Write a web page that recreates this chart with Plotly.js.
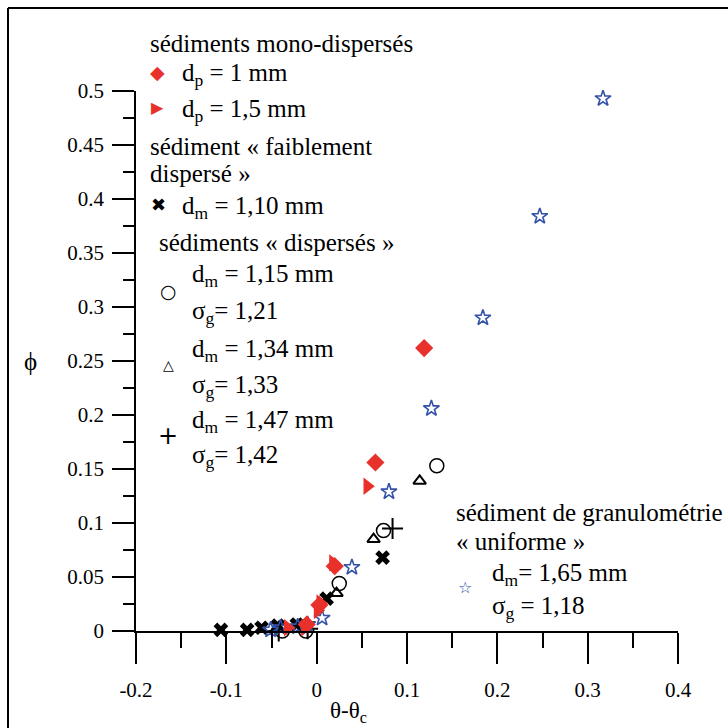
<!DOCTYPE html>
<html>
<head>
<meta charset="utf-8">
<script src="https://cdn.plot.ly/plotly-3.0.1.min.js"></script>
</head>
<body style="margin:0">
<div id="chart" style="width:728px;height:728px"></div>
<script>
// ---- data (θ-θc, φ) ----
const mono1_x = [-0.011, 0.003, 0.020, 0.065, 0.119];
const mono1_y = [0.006, 0.024, 0.060, 0.156, 0.262];
const mono15_x = [-0.032, -0.013, 0.001, 0.004, 0.018, 0.056];
const mono15_y = [0.003, 0.003, 0.019, 0.026, 0.063, 0.134];
const faible_x = [-0.106, -0.077, -0.061, -0.043, -0.022, 0.011, 0.073];
const faible_y = [0.001, 0.001, 0.003, 0.005, 0.006, 0.030, 0.068];
const disp115_x = [-0.038, -0.012, 0.025, 0.074, 0.133];
const disp115_y = [0.000, 0.000, 0.044, 0.093, 0.153];
const disp134_x = [-0.010, 0.022, 0.063, 0.114];
const disp134_y = [0.002, 0.035, 0.085, 0.139];
const disp147_x = [-0.042, -0.010, 0.084];
const disp147_y = [0.000, 0.002, 0.095];
const unif_x = [-0.051, -0.040, -0.021, -0.010, 0.006, 0.039, 0.080, 0.127, 0.184, 0.247, 0.317];
const unif_y = [0.001, 0.003, 0.004, 0.006, 0.012, 0.059, 0.129, 0.206, 0.290, 0.384, 0.493];

const xTickVals = [-0.2, -0.1, 0, 0.1, 0.2, 0.3, 0.4];
const xTickText = ['-0.2', '-0.1', '0', '0.1', '0.2', '0.3', '0.4'];
const yTickVals = [0, 0.05, 0.1, 0.15, 0.2, 0.25, 0.3, 0.35, 0.4, 0.45, 0.5];
const yTickText = ['0', '0.05', '0.1', '0.15', '0.2', '0.25', '0.3', '0.35', '0.4', '0.45', '0.5'];

// ---- styling ----
const RED = '#e8312b';
const BLUE = '#3452a8';
const SERIF = 'Liberation Serif';
const SYM = 'DejaVu Sans';
const L = 136, R = 50, T = 91, B = 97, W = 728, H = 728;
const PW = W - L - R, PH = H - T - B;
const px = v => (v - L) / PW;
const py = v => (H - B - v) / PH;

function tr(x, y, symbol, color, size, lw, name) {
  return {x: x, y: y, type: 'scatter', mode: 'markers', name: name, cliponaxis: false,
    marker: {symbol: symbol, color: color, size: size, line: {color: color, width: lw}}};
}
const traces = [
  tr(faible_x, faible_y, 'x', '#000', 13, 0, 'dm = 1,10 mm'),
  tr(disp115_x, disp115_y, 'circle-open', '#000', 14, 1.5, 'dm = 1,15 mm'),
  tr(disp134_x, disp134_y, 'triangle-up-open', '#000', 11, 2, 'dm = 1,34 mm'),
  tr(disp147_x, disp147_y, 'cross-thin-open', '#000', 15, 2, 'dm = 1,47 mm'),
  tr(unif_x, unif_y, 'star-open', BLUE, 12, 1.6, 'dm = 1,65 mm'),
  tr(mono15_x, mono15_y, 'triangle-right', RED, 15, 0, 'dp = 1,5 mm'),
  tr(mono1_x, mono1_y, 'diamond', RED, 14, 0, 'dp = 1 mm')
];

function txt(text, x, y, size) {
  return {text: text, xref: 'paper', yref: 'paper', x: px(x), y: py(y),
    xanchor: 'left', yanchor: 'middle', showarrow: false,
    font: {family: SERIF, size: size, color: '#000'}};
}
function sym(ch, color, x, y, size) {
  return {text: ch, xref: 'paper', yref: 'paper', x: px(x), y: py(y), xanchor: 'center', yanchor: 'middle',
    showarrow: false, font: {family: SYM, size: size, color: color}};
}
const FS = 25;
const annotations = [
  txt('sédiments mono-dispersés', 148, 43, FS),
  sym('◆', RED, 157, 72, 19), txt('d<sub>p</sub> = 1 mm', 180, 75, FS),
  sym('▶', RED, 157, 107, 16), txt('d<sub>p</sub> = 1,5 mm', 180, 110, FS),
  txt('sédiment « faiblement', 148, 146, FS),
  txt('dispersé »', 148, 173, FS),
  sym('✖', '#000', 158, 204, 18), txt('d<sub>m</sub> = 1,10 mm', 180, 207, FS),
  txt('sédiments « dispersés »', 157, 243, FS),
  txt('d<sub>m</sub> = 1,15 mm', 190, 275, FS), sym('○', '#000', 168, 291, 19), txt('σ<sub>g</sub>= 1,21', 190, 312, FS),
  txt('d<sub>m</sub> = 1,34 mm', 190, 350, FS), sym('△', '#000', 168, 365, 14), txt('σ<sub>g</sub>= 1,33', 190, 386, FS),
  txt('d<sub>m</sub> = 1,47 mm', 190, 421, FS), sym('+', '#000', 168, 436, 24), txt('σ<sub>g</sub>= 1,42', 190, 456, FS),
  txt('sédiment de granulométrie', 454, 512, FS),
  txt('« uniforme »', 454, 541, FS),
  txt('d<sub>m</sub>= 1,65 mm', 490, 574, FS), sym('☆', BLUE, 465, 587, 16), txt('σ<sub>g</sub> = 1,18', 490, 607, FS),
  // axis titles
  {text: 'θ-θ<sub>c</sub>', xref: 'paper', yref: 'paper', x: px(348), y: py(712), xanchor: 'center', yanchor: 'middle',
   showarrow: false, font: {family: SERIF, size: 23, color: '#000'}},
  {text: 'ϕ', xref: 'paper', yref: 'paper', x: px(30), y: py(361), xanchor: 'center', yanchor: 'middle',
   showarrow: false, font: {family: SERIF, size: 25, color: '#000'}}
];

const shapes = [
  {type: 'line', xref: 'paper', yref: 'paper', x0: px(8), x1: px(8), y0: py(8), y1: py(740), line: {color: '#000', width: 2}},
  {type: 'line', xref: 'paper', yref: 'paper', x0: px(8), x1: px(740), y0: py(8), y1: py(8), line: {color: '#000', width: 2}}
];

const layout = {
  width: W, height: H,
  margin: {l: L, r: R, t: T, b: B, pad: 0},
  paper_bgcolor: '#fff', plot_bgcolor: '#fff',
  showlegend: false,
  font: {family: SERIF, size: 21, color: '#000'},
  xaxis: {range: [-0.2, 0.4], tickvals: xTickVals, ticktext: xTickText, ticks: 'outside', ticklen: 31, tickwidth: 1.5,
    tickcolor: '#000', showgrid: false, zeroline: false, showline: true, linecolor: '#000', linewidth: 1.5,
    ticklabelstandoff: 8, tickfont: {family: SERIF, size: 21, color: '#000'},
    minor: {dtick: 0.05, tick0: 0, ticks: 'outside', ticklen: 15, tickwidth: 1.5, tickcolor: '#000', showgrid: false}},
  yaxis: {range: [0, 0.5], tickvals: yTickVals, ticktext: yTickText, ticks: 'outside', ticklen: 22, tickwidth: 1.5,
    tickcolor: '#000', showgrid: false, zeroline: false, showline: true, linecolor: '#000', linewidth: 1.5,
    ticklabelstandoff: 4, tickfont: {family: SERIF, size: 21, color: '#000'},
    minor: {dtick: 0.025, tick0: 0, ticks: 'outside', ticklen: 11, tickwidth: 1.5, tickcolor: '#000', showgrid: false}},
  annotations: annotations,
  shapes: shapes
};

Plotly.newPlot('chart', traces, layout, {displayModeBar: false});
</script>
</body>
</html>
